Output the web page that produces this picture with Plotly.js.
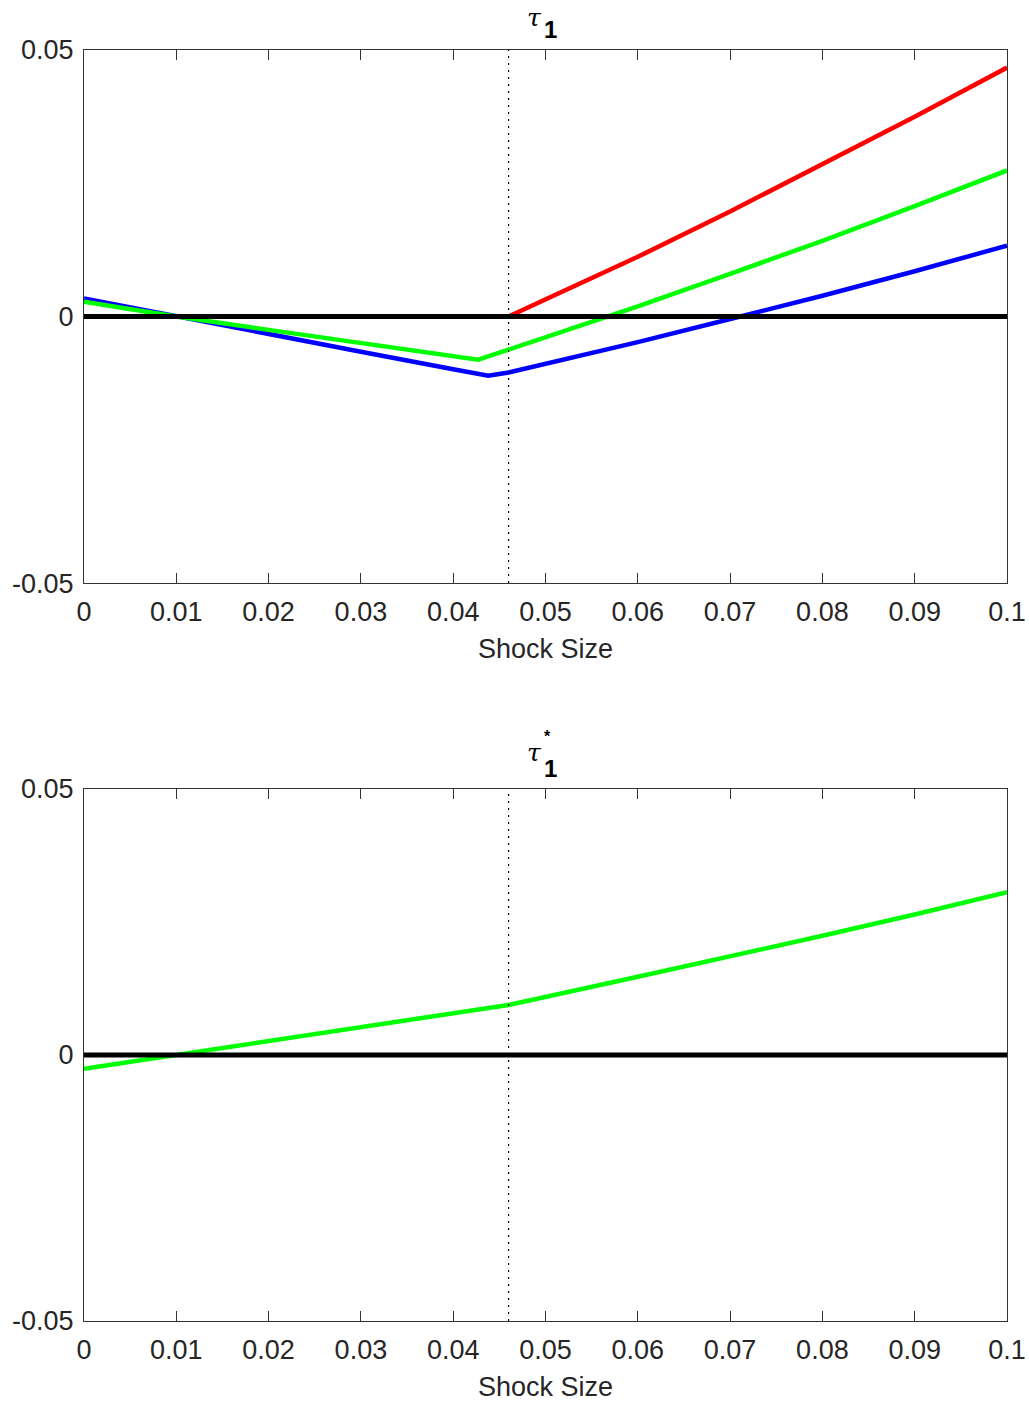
<!DOCTYPE html>
<html>
<head>
<meta charset="utf-8">
<script src="https://cdn.plot.ly/plotly-3.0.1.min.js"></script>
<style>html,body{margin:0;padding:0;background:#fff;}#chart{width:1029px;height:1404px;}</style>
</head>
<body>
<div id="chart"></div>
<script>
// ---- Data ----
// Top panel: tau_1
const blueX  = [0, 0.01, 0.02, 0.03, 0.04, 0.0438, 0.046, 0.06, 0.0711, 0.08, 0.09, 0.1];
const blueY  = [0.0034, 0.0, -0.0033, -0.0066, -0.0099, -0.0111, -0.0105, -0.0048, 0.0, 0.0039, 0.0085, 0.0133];
const greenX = [0, 0.01, 0.02, 0.03, 0.04, 0.0427, 0.046, 0.0568, 0.06, 0.07, 0.08, 0.09, 0.1];
const greenY = [0.0028, 0.0, -0.0025, -0.0050, -0.0075, -0.0081, -0.0062, 0.0, 0.0019, 0.0080, 0.0142, 0.0207, 0.0274];
const redX   = [0.046, 0.06, 0.07, 0.08, 0.09, 0.1];
const redY   = [0.0, 0.0112, 0.0197, 0.0285, 0.0375, 0.0467];
// Bottom panel: tau_1^*
const starX  = [0, 0.01, 0.02, 0.03, 0.04, 0.046, 0.06, 0.07, 0.08, 0.09, 0.1];
const starY  = [-0.0026, 0.0, 0.0027, 0.0053, 0.0077, 0.0094, 0.0147, 0.0185, 0.0224, 0.0264, 0.0306];
// Threshold (dotted vertical line)
const threshold = 0.046;
// Ticks
const xTicks = [0, 0.01, 0.02, 0.03, 0.04, 0.05, 0.06, 0.07, 0.08, 0.09, 0.1];
const xTickText = ['0', '0.01', '0.02', '0.03', '0.04', '0.05', '0.06', '0.07', '0.08', '0.09', '0.1'];
const yTicks = [-0.05, 0, 0.05];
const yTickText = ['-0.05', '0', '0.05'];
const xLabel = 'Shock Size';

// ---- Traces ----
const lw = 4.5;
const traces = [
  {x: blueX, y: blueY, xaxis: 'x', yaxis: 'y', mode: 'lines', line: {color: '#0000ff', width: lw}, name: 'blue'},
  {x: greenX, y: greenY, xaxis: 'x', yaxis: 'y', mode: 'lines', line: {color: '#00ff00', width: lw}, name: 'green'},
  {x: redX, y: redY, xaxis: 'x', yaxis: 'y', mode: 'lines', line: {color: '#ff0000', width: lw}, name: 'red'},
  {x: starX, y: starY, xaxis: 'x2', yaxis: 'y2', mode: 'lines', line: {color: '#00ff00', width: lw}, name: 'green*'}
];

const fontFam = 'Liberation Sans, Arial, sans-serif';
const axCol = '#333333';
function xa(anchor) {
  return {
    anchor: anchor,
    range: [0, 0.1],
    tickvals: xTicks,
    ticktext: xTickText,
    ticks: 'inside',
    ticklen: 10,
    tickcolor: axCol,
    tickwidth: 1,
    showline: true,
    linecolor: axCol,
    linewidth: 1,
    mirror: 'ticks',
    showgrid: false,
    zeroline: false,
    tickfont: {family: fontFam, size: 27, color: '#262626'},
    ticklabelstandoff: 5,
    title: {text: xLabel, font: {family: fontFam, size: 27, color: '#262626'}, standoff: 12},
    automargin: false
  };
}
function ya(anchor, domain) {
  return {
    anchor: anchor,
    domain: domain,
    range: [-0.05, 0.05],
    tickvals: yTicks,
    ticktext: yTickText,
    ticks: 'inside',
    ticklen: 10,
    tickcolor: axCol,
    tickwidth: 1,
    showline: true,
    linecolor: axCol,
    linewidth: 1,
    mirror: 'ticks',
    showgrid: false,
    zeroline: false,
    tickfont: {family: fontFam, size: 27, color: '#262626'},
    ticklabelstandoff: 4,
    automargin: false
  };
}

const layout = {
  width: 1029,
  height: 1404,
  margin: {l: 84, r: 22, t: 50, b: 83},
  paper_bgcolor: '#ffffff',
  plot_bgcolor: '#ffffff',
  showlegend: false,
  xaxis: xa('y'),
  yaxis: ya('x', [0.5806, 1]),
  xaxis2: xa('y2'),
  yaxis2: ya('x2', [0, 0.4186]),
  shapes: [
    {type: 'line', xref: 'x', yref: 'y domain', x0: threshold, x1: threshold, y0: 0, y1: 1, line: {color: '#000', width: 1.2, dash: '2px,5px'}, layer: 'above'},
    {type: 'line', xref: 'x2', yref: 'y2 domain', x0: threshold, x1: threshold, y0: 0, y1: 1, line: {color: '#000', width: 1.2, dash: '2px,5px'}, layer: 'above'},
    {type: 'line', xref: 'x domain', yref: 'y', x0: 0, x1: 1, y0: 0, y1: 0, line: {color: '#000', width: 5}, layer: 'above'},
    {type: 'line', xref: 'x2 domain', yref: 'y2', x0: 0, x1: 1, y0: 0, y1: 0, line: {color: '#000', width: 5}, layer: 'above'}
  ],
  annotations: [
    {xref: 'paper', yref: 'paper', x: 0.4886, y: 1.0255, text: '<i>τ</i>', showarrow: false, font: {family: 'DejaVu Serif, serif', size: 25, color: '#000'}, xanchor: 'center', yanchor: 'middle', borderpad: 0},
    {xref: 'paper', yref: 'paper', x: 0.5050, y: 1.0160, text: '<b>1</b>', showarrow: false, font: {family: fontFam, size: 24, color: '#000'}, xanchor: 'center', yanchor: 'middle'},
    {xref: 'paper', yref: 'paper', x: 0.5017, y: 0.4600, text: '<b>*</b>', showarrow: false, font: {family: fontFam, size: 16, color: '#000'}, xanchor: 'center', yanchor: 'middle'},
    {xref: 'paper', yref: 'paper', x: 0.4886, y: 0.4470, text: '<i>τ</i>', showarrow: false, font: {family: 'DejaVu Serif, serif', size: 25, color: '#000'}, xanchor: 'center', yanchor: 'middle'},
    {xref: 'paper', yref: 'paper', x: 0.5050, y: 0.4346, text: '<b>1</b>', showarrow: false, font: {family: fontFam, size: 24, color: '#000'}, xanchor: 'center', yanchor: 'middle'}
  ]
};

Plotly.newPlot('chart', traces, layout, {displayModeBar: false, staticPlot: true});
</script>
</body>
</html>
